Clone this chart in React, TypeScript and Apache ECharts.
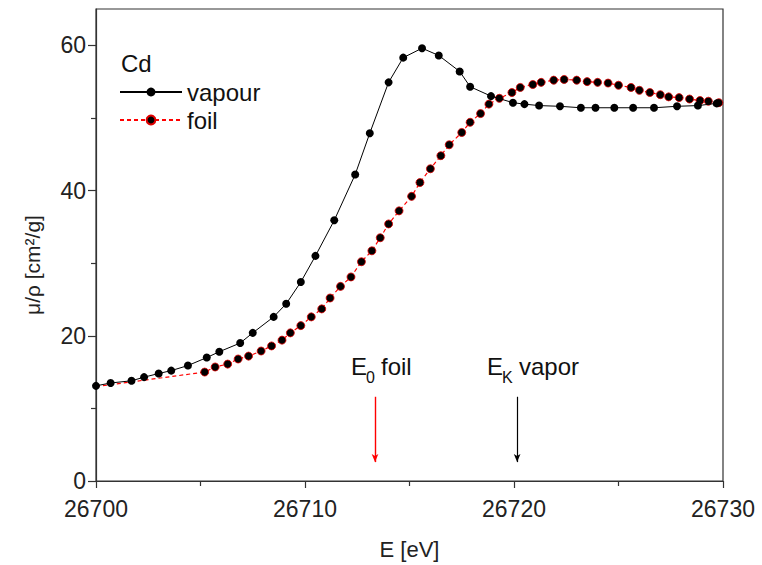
import React, { useEffect, useRef } from "react";
import * as echarts from "echarts";

const vapourE = [26700.0, 26700.7, 26701.7, 26702.3, 26703.0, 26703.6, 26704.4, 26705.3, 26705.9, 26706.9, 26707.5, 26708.5, 26709.1, 26709.8, 26710.5, 26711.4, 26712.4, 26713.1, 26714.0, 26714.7, 26715.6, 26716.4, 26717.4, 26717.9, 26718.9, 26719.95, 26720.5, 26721.2, 26722.2, 26723.2, 26723.9, 26724.8, 26725.7, 26726.7, 26727.8, 26728.8, 26729.7];
const vapourMu = [13.1, 13.5, 13.8, 14.3, 14.8, 15.2, 15.9, 17.0, 17.8, 19.0, 20.4, 22.6, 24.4, 27.4, 31.0, 35.9, 42.2, 47.9, 54.9, 58.3, 59.6, 58.6, 56.4, 54.3, 53.0, 52.1, 51.9, 51.7, 51.6, 51.4, 51.4, 51.4, 51.4, 51.4, 51.6, 51.7, 52.0];

const foilE = [26700.0, 26705.2, 26705.7, 26706.3, 26706.8, 26707.3, 26707.9, 26708.4, 26708.9, 26709.3, 26709.8, 26710.3, 26710.8, 26711.2, 26711.7, 26712.2, 26712.7, 26713.2, 26713.6, 26714.0, 26714.5, 26715.1, 26715.5, 26716.0, 26716.5, 26716.9, 26717.5, 26717.9, 26718.4, 26718.8, 26719.3, 26719.9, 26720.3, 26720.9, 26721.3, 26721.9, 26722.4, 26723.0, 26723.5, 26724.0, 26724.5, 26725.0, 26725.6, 26726.0, 26726.5, 26727.0, 26727.4, 26727.9, 26728.4, 26728.9, 26729.3, 26729.8];
const foilMu = [13.0, 15.0, 15.7, 16.1, 16.8, 17.2, 17.9, 18.6, 19.4, 20.4, 21.4, 22.6, 23.7, 25.2, 26.8, 28.1, 30.2, 31.7, 33.5, 35.4, 37.2, 39.2, 41.1, 43.0, 44.8, 46.3, 48.0, 49.4, 50.6, 51.9, 52.7, 53.5, 54.2, 54.6, 54.9, 55.2, 55.3, 55.2, 55.0, 54.9, 54.8, 54.5, 54.2, 53.8, 53.5, 53.2, 52.9, 52.8, 52.6, 52.4, 52.3, 52.1];

const xMajor = [26700, 26710, 26720, 26730];
const xMinor = [26705, 26715, 26725];
const yMajor = [0, 20, 40, 60];
const yMinor = [10, 30, 50];

const e0Foil = 26713.35;
const ekVapor = 26720.15;
const arrowTop = 11.6;
const arrowBottom = 2.6;

const FONT = "Liberation Sans, Arial, sans-serif";

export default function App() {
  const ref = useRef<HTMLDivElement>(null);
  useEffect(() => {
    if (!ref.current) return;
    document.body.style.margin = "0";
    const chart = echarts.init(ref.current, undefined, { renderer: "svg" });
    const gridCfg = { left: 96, right: 39, top: 9, bottom: 83 };
    const xBase = { type: "value", min: 26700, max: 26730, interval: 10, gridIndex: 0 };
    const yBase = { type: "value", min: 0, max: 65, interval: 20, gridIndex: 0 };
    chart.setOption({
      animation: false,
      backgroundColor: "#ffffff",
      textStyle: { fontFamily: FONT },
      grid: { ...gridCfg, show: true, borderColor: "#333", borderWidth: 1.2, backgroundColor: "transparent" },
      xAxis: [
        {
          ...xBase,
          name: "E [eV]",
          nameLocation: "middle",
          nameGap: 57,
          nameTextStyle: { fontSize: 22, color: "#222", fontFamily: FONT },
          axisLine: { show: true, lineStyle: { color: "#333", width: 1.2 } },
          axisTick: { show: true, inside: false, length: 7, customValues: xMajor, lineStyle: { color: "#333", width: 1.2 } },
          axisLabel: { fontSize: 23, color: "#222", margin: 16, customValues: xMajor, fontFamily: FONT, formatter: (v: number) => String(v) },
          splitLine: { show: false },
        },
        {
          ...xBase,
          position: "bottom",
          axisLine: { show: false },
          axisTick: { show: true, inside: false, length: 5, customValues: xMinor, lineStyle: { color: "#333", width: 1.2 } },
          axisLabel: { show: false },
          splitLine: { show: false },
        },
      ],
      yAxis: [
        {
          ...yBase,
          axisLine: { show: true, lineStyle: { color: "#333", width: 1.2 } },
          axisTick: { show: true, inside: false, length: 8, customValues: yMajor, lineStyle: { color: "#333", width: 1.2 } },
          axisLabel: { fontSize: 23, color: "#222", margin: 10, customValues: yMajor, fontFamily: FONT },
          splitLine: { show: false },
        },
        {
          ...yBase,
          position: "left",
          axisLine: { show: false },
          axisTick: { show: true, inside: false, length: 5, customValues: yMinor, lineStyle: { color: "#333", width: 1.2 } },
          axisLabel: { show: false },
          splitLine: { show: false },
        },
      ],
      legend: {
        left: 114,
        top: 75,
        orient: "vertical",
        itemWidth: 62,
        itemHeight: 11,
        itemGap: 4,
        textStyle: { fontSize: 24, color: "#111", fontFamily: FONT },
        data: ["vapour", "foil"],
      },
      series: [
        {
          name: "vapour",
          type: "line",
          data: vapourE.map((e, i) => [e, vapourMu[i]]),
          symbol: "circle",
          symbolSize: 8,
          itemStyle: { color: "#000" },
          lineStyle: { color: "#000", width: 1 },
          z: 3,
          markLine: {
            silent: true,
            symbol: ["none", "arrow"],
            symbolSize: [5, 8],
            label: { show: false },
            lineStyle: { color: "#000", width: 1.2, type: "solid" },
            data: [[{ coord: [ekVapor, arrowTop] }, { coord: [ekVapor, arrowBottom] }]],
          },
        },
        {
          name: "foil",
          type: "line",
          data: foilE.map((e, i) =>
            i === 0 ? { value: [e, foilMu[i]], symbol: "none" } : [e, foilMu[i]]
          ),
          symbol: "circle",
          symbolSize: 8,
          itemStyle: { color: "#000", borderColor: "#e00000", borderWidth: 0.8 },
          lineStyle: { color: "#ff0000", width: 1.2, type: [4, 3] },
          z: 2,
          markLine: {
            silent: true,
            symbol: ["none", "arrow"],
            symbolSize: [5, 8],
            label: { show: false },
            lineStyle: { color: "#ff0000", width: 1.4, type: "solid" },
            data: [[{ coord: [e0Foil, arrowTop] }, { coord: [e0Foil, arrowBottom] }]],
          },
        },
      ],
      graphic: [
        {
          type: "text",
          x: 32,
          y: 265,
          rotation: Math.PI / 2,
          style: { text: "μ/ρ [cm²/g]", fontSize: 21, fill: "#222", fontFamily: FONT, align: "center", verticalAlign: "middle" },
        },
        { type: "text", left: 121, top: 51, style: { text: "Cd", fontSize: 24, fill: "#111", fontFamily: FONT } },
        { type: "text", left: 351, top: 354, style: { text: "E", fontSize: 24, fill: "#111", fontFamily: FONT } },
        { type: "text", left: 366, top: 369, style: { text: "0", fontSize: 16, fill: "#111", fontFamily: FONT } },
        { type: "text", left: 381, top: 354, style: { text: "foil", fontSize: 24, fill: "#111", fontFamily: FONT } },
        { type: "text", left: 487, top: 354, style: { text: "E", fontSize: 24, fill: "#111", fontFamily: FONT } },
        { type: "text", left: 502, top: 369, style: { text: "K", fontSize: 16, fill: "#111", fontFamily: FONT } },
        { type: "text", left: 519, top: 354, style: { text: "vapor", fontSize: 24, fill: "#111", fontFamily: FONT } },
      ],
    });
    return () => chart.dispose();
  }, []);
  return <div ref={ref} style={{ width: 762, height: 565 }} />;
}
